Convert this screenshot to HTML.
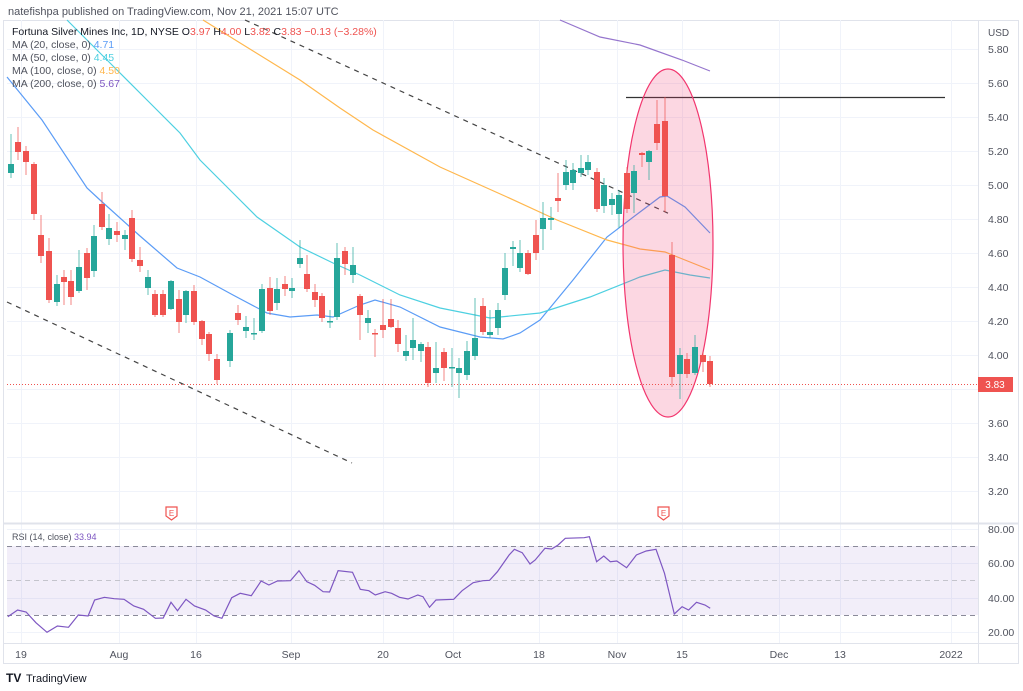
<!DOCTYPE html>
<html><head><meta charset="utf-8"><style>
body{margin:0;background:#fff;width:1023px;height:691px;overflow:hidden;font-family:"Liberation Sans",sans-serif}
svg{position:absolute;left:0;top:0}
</style></head><body>
<svg id="s" width="1023" height="691" xmlns="http://www.w3.org/2000/svg" font-family="Liberation Sans, sans-serif">
<text x="8" y="15" font-size="11" fill="#50535e">natefishpa published on TradingView.com, Nov 21, 2021 15:07 UTC</text>
<rect x="3.5" y="20.5" width="1015" height="643" fill="none" stroke="#e0e3eb"/>
<g id="grid" stroke="#f0f3fa" stroke-width="1"></g>
<line x1="978.5" y1="20" x2="978.5" y2="663" stroke="#e0e3eb"/>
<line x1="3" y1="523.5" x2="1019" y2="523.5" stroke="#e0e3eb" stroke-width="2"/>
<line x1="3" y1="643.5" x2="1019" y2="643.5" stroke="#e0e3eb"/>
<rect x="7" y="546" width="971" height="69" fill="rgba(126,87,194,0.1)"/>
<g stroke="#8a8a99" stroke-dasharray="5,4" stroke-width="1">
<line x1="7" y1="546.5" x2="978" y2="546.5"/><line x1="7" y1="580.5" x2="978" y2="580.5" stroke="#c4c4cc"/><line x1="7" y1="615.5" x2="978" y2="615.5"/></g>
<g id="ma" fill="none" stroke-width="1.2"></g>
<g stroke="#444" stroke-dasharray="5,5" stroke-width="1.2">
<line x1="245" y1="20" x2="672" y2="215"/><line x1="7" y1="302" x2="352" y2="463"/></g>
<line x1="626" y1="97.5" x2="945" y2="97.5" stroke="#333" stroke-width="1.3"/>
<ellipse cx="668" cy="243" rx="45" ry="174" fill="rgba(242,54,110,0.2)" stroke="#f2366e" stroke-width="1.2"/>
<line x1="7" y1="384.5" x2="978" y2="384.5" stroke="#ef5350" stroke-dasharray="1,2"/>
<g id="c"></g>
<polyline id="rsi" fill="none" stroke="#7e57c2" stroke-width="1.2"/>
<g id="ax" font-size="10.5" fill="#50535e"></g>
<rect x="978" y="377" width="35" height="15" fill="#ef5350"/>
<text x="995" y="388" font-size="10" fill="#fff" text-anchor="middle">3.83</text>
<text x="988" y="36" font-size="10" fill="#50535e">USD</text>
<g font-size="10.5">
<text x="12" y="35" fill="#131722">Fortuna Silver Mines Inc, 1D, NYSE  O<tspan fill="#ef5350">3.97</tspan> H<tspan fill="#ef5350">4.00</tspan> L<tspan fill="#ef5350">3.82</tspan> C<tspan fill="#ef5350">3.83 −0.13 (−3.28%)</tspan></text>
<text x="12" y="48" fill="#50535e">MA (20, close, 0) <tspan fill="#5b9cf6">4.71</tspan></text>
<text x="12" y="61" fill="#50535e">MA (50, close, 0) <tspan fill="#4dd0e1">4.45</tspan></text>
<text x="12" y="74" fill="#50535e">MA (100, close, 0) <tspan fill="#ffb74d">4.50</tspan></text>
<text x="12" y="87" fill="#50535e">MA (200, close, 0) <tspan fill="#7e57c2">5.67</tspan></text>
<text x="12" y="540" fill="#50535e" font-size="9">RSI (14, close) <tspan fill="#7e57c2">33.94</tspan></text>
</g>
<g fill="#fff" stroke="#ef5350" stroke-width="1.2">
<path d="M166 507h11v9l-5.5 4l-5.5-4z"/><path d="M658 507h11v9l-5.5 4l-5.5-4z"/></g>
<g font-size="8" fill="#ef5350" text-anchor="middle"><text x="171.5" y="516">E</text><text x="663.5" y="516">E</text></g>
<text x="6" y="682" font-size="12" font-weight="bold" fill="#131722">TV</text>
<text x="26" y="682" font-size="11" fill="#131722">TradingView</text>
</svg>
<script>
var NS="http://www.w3.org/2000/svg";
function el(p,t,a){var e=document.createElementNS(NS,t);for(var k in a)e.setAttribute(k,a[k]);p.appendChild(e);return e;}
var g=document.getElementById('grid'),ax=document.getElementById('ax');
var xs=[[21,'19'],[119,'Aug'],[196,'16'],[291,'Sep'],[383,'20'],[453,'Oct'],[539,'18'],[617,'Nov'],[682,'15'],[779,'Dec'],[840,'13'],[951,'2022']];
xs.forEach(function(v){el(g,'line',{x1:v[0]+.5,y1:20,x2:v[0]+.5,y2:643});var t=el(ax,'text',{x:v[0],y:658,'text-anchor':'middle'});t.textContent=v[1];});
for(var p=5.8;p>3.1;p-=0.2){var y=Math.round(83+(5.6-p)*170);el(g,'line',{x1:7,y1:y+.5,x2:978,y2:y+.5});if(Math.abs(y-384)>8){var t=el(ax,'text',{x:988,y:y+4});t.textContent=p.toFixed(2);}}
[80,60,40,20].forEach(function(r){var y=Math.round(529+(80-r)*1.717);el(g,'line',{x1:7,y1:y+.5,x2:978,y2:y+.5});var t=el(ax,'text',{x:988,y:y+4});t.textContent=r.toFixed(2);});
var ma=document.getElementById('ma');
function pl(c,pts){el(ma,'polyline',{stroke:c,points:pts.map(function(q){return q.join(',')}).join(' ')});}
pl('#5b9cf6',[[7,77],[42,120],[87,188],[100,200],[140,236],[177,268],[200,277],[233,295],[267,313],[290,317],[317,315],[333,317],[360,305],[375,300],[400,307],[440,327],[480,337],[503,339],[520,333],[540,320],[573,280],[607,237],[640,212],[660,197],[667,196],[685,207],[710,233]]);
pl('#4dd0e1',[[67,20],[110,63],[150,103],[180,133],[200,160],[233,193],[257,217],[300,247],[333,263],[360,275],[400,295],[440,308],[490,318],[540,313],[590,297],[640,277],[665,270],[690,275],[710,278]]);
pl('#ffb74d',[[203,20],[300,80],[340,108],[373,130],[440,167],[507,197],[557,220],[607,240],[640,249],[665,252],[680,258],[710,270]]);
pl('#9575cd',[[560,20],[600,37],[640,45],[682,60],[710,71]]);
var C=[[11,'g',164,173,134,178],[18,'r',142,152,127,160],[26,'r',151,162,146,175],[34,'r',164,214,162,220],[41,'r',235,256,215,263],[49,'r',251,300,238,303],[57,'g',284,302,275,306],[64,'r',277,282,270,305],[71,'r',281,297,270,305],[79,'g',267,291,250,293],[87,'r',253,278,248,290],[94,'g',236,271,225,277],[102,'r',204,227,192,230],[109,'g',228,239,214,245],[117,'r',231,235,222,242],[125,'g',235,239,230,250],[132,'r',218,259,210,262],[140,'r',260,266,247,272],[148,'g',277,288,270,295],[155,'r',294,315,290,317],[163,'r',294,315,290,317],[171,'g',281,309,280,310],[179,'r',299,322,290,333],[186,'g',291,315,290,323],[194,'r',291,322,285,325],[202,'r',321,339,320,345],[209,'r',334,354,332,361],[217,'r',359,380,354,384],[230,'g',333,361,330,367],[238,'r',313,320,305,325],[246,'g',327,331,316,338],[254,'g',333,334,318,340],[262,'g',289,331,284,333],[270,'r',288,311,277,315],[277,'g',289,303,278,310],[285,'r',284,289,276,296],[292,'g',288,291,278,298],[300,'g',258,264,240,268],[307,'r',274,289,255,292],[315,'r',292,300,284,307],[322,'r',296,318,293,322],[330,'g',321,322,310,328],[337,'g',258,317,243,320],[345,'r',251,264,247,275],[353,'g',265,275,247,283],[360,'r',296,315,294,340],[368,'g',318,323,310,333],[375,'r',333,334,329,357],[383,'r',325,330,299,338],[391,'r',319,327,299,328],[398,'r',328,344,320,352],[406,'g',351,356,335,361],[413,'g',340,348,318,360],[421,'g',344,351,342,362],[428,'r',347,383,342,387],[436,'g',368,373,342,383],[444,'r',352,368,348,381],[452,'g',367,368,348,387],[459,'g',368,373,358,398],[467,'g',351,375,341,380],[475,'g',338,356,298,360],[483,'r',306,332,298,335],[490,'g',332,335,310,338],[498,'g',310,328,303,335],[505,'g',268,295,253,300],[513,'g',247,249,241,266],[520,'g',253,268,240,272],[528,'r',253,274,250,275],[536,'r',235,253,220,260],[543,'g',218,229,202,250],[551,'g',218,220,207,230],[558,'r',198,201,173,212],[566,'g',172,185,160,190],[573,'g',170,183,163,190],[581,'g',168,173,155,177],[588,'g',162,170,155,175],[597,'r',172,209,168,212],[604,'g',185,206,178,213],[612,'g',199,205,193,215],[619,'g',195,214,190,228],[627,'r',173,209,167,213],[634,'g',171,193,165,213],[642,'r',153,155,152,167],[649,'g',151,162,150,180],[657,'r',124,143,100,150],[665,'r',121,196,97,212],[672,'r',255,377,242,387],[680,'g',355,374,348,399],[687,'r',359,374,353,378],[695,'g',347,373,335,375],[703,'r',355,362,352,372],[710,'r',361,384,356,387]];
var cg=document.getElementById('c');
C.forEach(function(b){var col=b[1]=='g'?'#26a69a':'#ef5350';el(cg,'line',{x1:b[0],y1:b[4],x2:b[0],y2:b[5],stroke:col,'stroke-width':1,opacity:.7});el(cg,'rect',{x:b[0]-3,y:b[2],width:6,height:Math.max(1.5,b[3]-b[2]),fill:col});});
var R=[[12,350],[27,330],[40,336],[55,368],[72,397],[88,378],[105,382],[120,345],[135,348],[145,300],[160,292],[175,296],[190,298],[205,318],[220,328],[238,355],[250,354],[262,307],[272,332],[285,298],[298,318],[315,330],[328,348],[340,355],[355,293],[368,280],[385,287],[400,243],[412,255],[425,243],[445,242],[458,212],[470,245],[482,256],[495,275],[505,276],[518,212],[540,217],[552,268],[565,272],[575,285],[590,275],[600,280],[612,292],[625,297],[640,285],[648,290],[658,322],[668,300],[695,298],[708,272],[725,248],[740,242],[750,241],[762,215],[780,165],[788,148],[800,158],[812,192],[820,180],[835,145],[845,147],[855,135],[866,115],[895,113],[903,110],[914,185],[925,168],[935,185],[945,183],[960,203],[975,165],[990,153],[1005,148],[1018,220],[1033,342],[1045,320],[1055,330],[1067,307],[1080,315],[1088,325]];
document.getElementById('rsi').setAttribute('points',R.map(function(q){return (q[0]/1.532).toFixed(1)+','+(500+q[1]/3).toFixed(1)}).join(' '));
</script>
</body></html>
